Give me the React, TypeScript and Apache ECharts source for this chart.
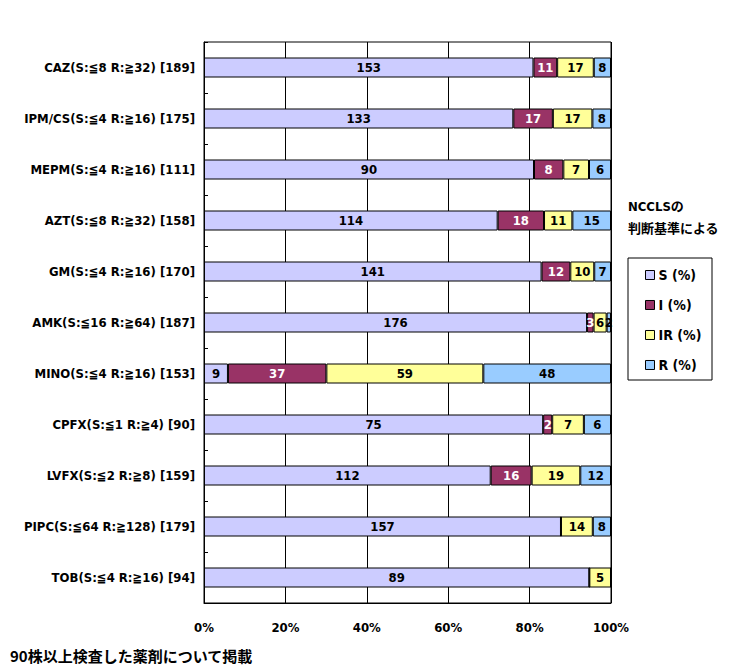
import React, { useEffect, useRef } from "react";
import * as echarts from "echarts";

const categories = [
  "CAZ(S:≦8 R:≧32) [189]",
  "IPM/CS(S:≦4 R:≧16) [175]",
  "MEPM(S:≦4 R:≧16) [111]",
  "AZT(S:≦8 R:≧32) [158]",
  "GM(S:≦4 R:≧16) [170]",
  "AMK(S:≦16 R:≧64) [187]",
  "MINO(S:≦4 R:≧16) [153]",
  "CPFX(S:≦1 R:≧4) [90]",
  "LVFX(S:≦2 R:≧8) [159]",
  "PIPC(S:≦64 R:≧128) [179]",
  "TOB(S:≦4 R:≧16) [94]",
];
const countS = [153, 133, 90, 114, 141, 176, 9, 75, 112, 157, 89];
const countI = [11, 17, 8, 18, 12, 3, 37, 2, 16, 0, 0];
const countIR = [17, 17, 7, 11, 10, 6, 59, 7, 19, 14, 5];
const countR = [8, 8, 6, 15, 7, 2, 48, 6, 12, 8, 0];
const seriesNames = ["S (%)", "I (%)", "IR (%)", "R (%)"];
const colors = ["#CCCCFF", "#993366", "#FFFF99", "#99CCFF"];
const labelColors = ["#000", "#fff", "#000", "#000"];
const xTicks = [0, 20, 40, 60, 80, 100];
const legendTitle = "NCCLSの\n判断基準による";
const footNote = "90株以上検査した薬剤について掲載";

const FONT = "'Liberation Sans Narrow','DejaVu Sans Condensed','Noto Sans CJK JP',sans-serif";

export default function App() {
  const ref = useRef<HTMLDivElement>(null);
  useEffect(() => {
    if (!ref.current) return;
    const chart = echarts.init(ref.current, null, { renderer: "svg" });
    const counts = [countS, countI, countIR, countR];
    const totals = categories.map((_, i) => counts.reduce((s, a) => s + a[i], 0));
    const series = counts.map((arr, k) => ({
      name: seriesNames[k],
      type: "bar",
      stack: "all",
      barWidth: 20,
      data: arr.map((v, i) => (v / totals[i]) * 100),
      itemStyle: { color: colors[k], borderColor: "#000", borderWidth: 1 },
      label: {
        show: true,
        position: "inside",
        color: labelColors[k],
        fontFamily: FONT,
        fontWeight: "bold",
        fontSize: 13,
        formatter: (p: any) => (arr[p.dataIndex] ? String(arr[p.dataIndex]) : ""),
      },
    }));
    chart.setOption({
      animation: false,
      backgroundColor: "#fff",
      textStyle: { fontFamily: FONT },
      title: {
        text: legendTitle,
        left: 628,
        top: 195,
        padding: 0,
        textStyle: { fontFamily: FONT, fontSize: 13, fontWeight: "bold", color: "#000", lineHeight: 22 },
      },
      grid: {
        left: 204,
        right: 127,
        top: 42,
        bottom: 69,
        show: true,
        borderColor: "#000",
        borderWidth: 1,
        backgroundColor: "transparent",
      },
      legend: {
        orient: "vertical",
        left: 645,
        top: 268,
        padding: 0,
        itemWidth: 9,
        itemHeight: 9,
        itemGap: 16,
        icon: "rect",
        data: seriesNames,
        itemStyle: { borderColor: "#000", borderWidth: 1 },
        textStyle: { fontFamily: FONT, fontSize: 14, fontWeight: "bold", color: "#000", padding: [0, 0, 0, -1] },
      },
      graphic: [
        {
          type: "rect",
          shape: { x: 628, y: 258, width: 84, height: 122 },
          style: { fill: "none", stroke: "#000", lineWidth: 1 },
          z: 1,
        },
        {
          type: "text",
          left: 10,
          top: 648,
          style: { text: footNote, fontFamily: "'Noto Sans CJK JP',sans-serif", fontSize: 15, fontWeight: "bold", fill: "#000" },
        },
      ],
      xAxis: {
        type: "value",
        min: xTicks[0],
        max: xTicks[xTicks.length - 1],
        interval: 20,
        axisLine: { show: true, lineStyle: { color: "#000", width: 1 } },
        axisTick: { show: false },
        splitLine: { show: true, lineStyle: { color: "#000", width: 1 } },
        axisLabel: {
          formatter: "{value}%",
          color: "#000",
          fontFamily: FONT,
          fontWeight: "bold",
          fontSize: 13,
          margin: 18,
        },
      },
      yAxis: {
        type: "category",
        inverse: true,
        data: categories,
        axisLine: { show: true, lineStyle: { color: "#000", width: 1 } },
        axisTick: { show: true, inside: true, length: 4, lineStyle: { color: "#000" } },
        axisLabel: {
          color: "#000",
          fontFamily: FONT,
          fontWeight: "bold",
          fontSize: 13,
          margin: 9,
        },
      },
      series,
    });
    return () => chart.dispose();
  }, []);
  return (
    <div
      ref={ref}
      style={{ position: "absolute", left: 0, top: 0, width: 738, height: 672 }}
    />
  );
}
